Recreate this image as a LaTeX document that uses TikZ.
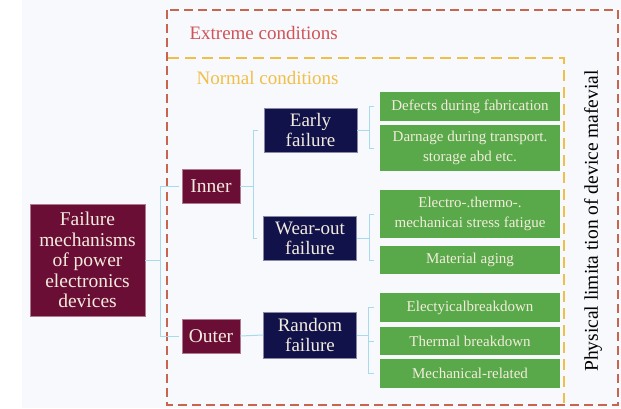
\documentclass[tikz,border=0pt]{standalone}
\usepackage{fontspec}
\setmainfont{Liberation Serif}
\newfontfamily\timesface{Liberation Serif}
\begin{document}
\definecolor{maroonbox}{HTML}{6B0E36}
\definecolor{navybox}{HTML}{11124A}
\definecolor{greenbox}{HTML}{59A94A}
\definecolor{boxtext}{HTML}{F3ECDD}
\definecolor{linkblue}{HTML}{A8DAEE}
\definecolor{extremered}{HTML}{C8654F}
\definecolor{extremetext}{HTML}{CF5358}
\definecolor{normalorange}{HTML}{F0BF48}
\definecolor{paper}{HTML}{F8F9FC}
\begin{tikzpicture}[x=1pt,y=-1pt,
  basebox/.style={inner sep=0pt, align=center, text=boxtext},
  rootbox/.style={basebox, fill=maroonbox, draw=maroonbox!55!white, line width=0.6pt,
    font=\timesface\fontsize{19.5}{20.5}\selectfont},
  classbox/.style={basebox, fill=maroonbox, draw=maroonbox!55!white, line width=0.6pt,
    minimum width=58pt, minimum height=34pt, font=\timesface\fontsize{19.5}{20}\selectfont},
  kindbox/.style={basebox, fill=navybox, draw=navybox!50!white, line width=0.6pt,
    minimum width=93pt, minimum height=44pt, font=\timesface\fontsize{19}{20}\selectfont},
  causebox/.style={basebox, fill=greenbox, minimum width=180pt,
    font=\timesface\fontsize{15}{19.5}\selectfont},
  conn/.style={draw=linkblue, line width=1pt},
  frameextreme/.style={draw=extremered, line width=1.6pt, dash pattern=on 9pt off 5pt},
  framenormal/.style={draw=normalorange, line width=1.2pt, dash pattern=on 11pt off 6pt}]

% canvas
\useasboundingbox (0,0) rectangle (621,408);
\fill[white] (0,0) rectangle (621,408);
\fill[paper] (22,0) rectangle (621,408);

% condition frames
\draw[framenormal] (168,58) -- (564,58) -- (564,403);
\draw[frameextreme] (167,10) rectangle (618,405);
\node[anchor=west, text=extremetext, font=\timesface\fontsize{19}{20}\selectfont] (extreme) at (186,33) {Extreme conditions};
\node[anchor=west, text=normalorange, font=\timesface\fontsize{19}{20}\selectfont] (normal) at (193,78) {Normal conditions};
\node[rotate=90, font=\timesface\fontsize{19.5}{20}\selectfont] (limit) at (593,221) {Physical limita tion of device mafevial};

% hierarchy
\node[rootbox, minimum width=115pt, minimum height=112pt] (root) at (87.5,260)
  {Failure\\mechanisms\\of power\\electronics\\devices};
\node[classbox] (inner) at (211,186) {Inner};
\node[classbox] (outer) at (211,336) {Outer};
\node[kindbox] (early) at (310.5,130) {Early\\failure};
\node[kindbox] (wear) at (310,238) {Wear-out\\failure};
\node[kindbox, minimum height=46pt] (random) at (310,335) {Random\\failure};

\node[causebox, minimum height=29pt] (g1) at (470,106.5) {Defects during fabrication};
\node[causebox, minimum height=46pt] (g2) at (470,148) {Darnage during transport.\\storage abd etc.};
\node[causebox, minimum height=48pt] (g3) at (470,214) {Electro-.thermo-.\\mechanicai stress fatigue};
\node[causebox, minimum height=28pt] (g4) at (470,260) {Material aging};
\node[causebox, minimum height=29pt] (g5) at (470,307.5) {Electyicalbreakdown};
\node[causebox, minimum height=28pt] (g6) at (470,341) {Thermal breakdown};
\node[causebox, minimum height=29pt] (g7) at (470,373.5) {Mechanical-related};

% connectors
\draw[conn, shorten >=3pt] (root.east) -- ++(15,0) |- (inner.west);
\draw[conn, shorten >=3pt] (root.east) -- ++(15,0) |- (outer.west);
\draw[conn, shorten >=6pt] (inner.east) -- ++(13,0) |- (early.west);
\draw[conn, shorten >=6pt] (inner.east) -- ++(13,0) |- (wear.west);
\draw[conn] (outer.east) -- (random.west);
\draw[conn, shorten >=6pt] (early.east) -- ++(12,0) |- (g1.west);
\draw[conn, shorten >=6pt] (early.east) -- ++(12,0) |- (g2.west);
\draw[conn, shorten >=6pt] (wear.east) -- ++(13,0) |- (g3.west);
\draw[conn, shorten >=6pt] (wear.east) -- ++(13,0) |- (g4.west);
\draw[conn, shorten >=6pt] (random.east) -- ++(12,0) |- (g5.west);
\draw[conn, shorten >=6pt] (random.east) -- ++(12,0) |- (g6.west);
\draw[conn, shorten >=6pt] (random.east) -- ++(12,0) |- (g7.west);
\end{tikzpicture}
\end{document}
